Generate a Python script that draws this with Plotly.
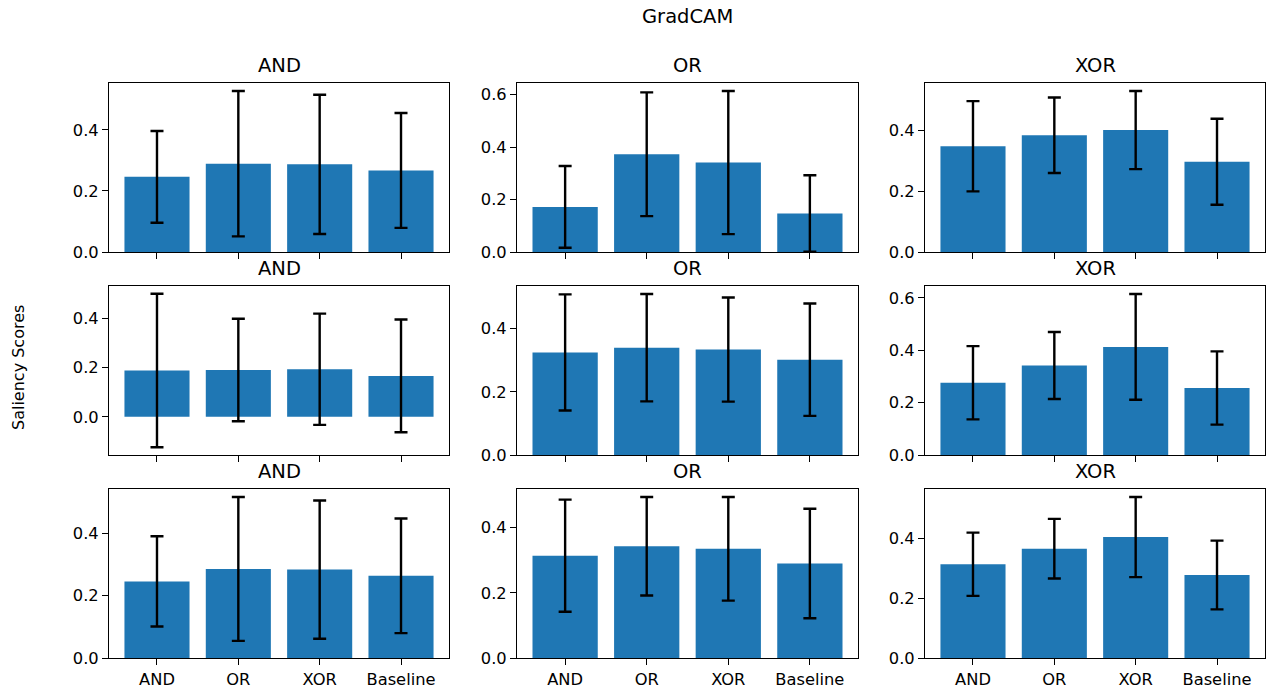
import plotly.graph_objects as go

# Categories along the x axis of every panel
categories = ["AND", "OR", "XOR", "Baseline"]
panel_titles = ["AND", "OR", "XOR"]

# Mean saliency score per category; each row holds the AND / OR / XOR panels
row1_means = [[0.246, 0.289, 0.287, 0.267],
              [0.172, 0.373, 0.341, 0.147],
              [0.347, 0.383, 0.400, 0.296]]
row1_stds = [[0.150, 0.238, 0.228, 0.188],
             [0.156, 0.236, 0.273, 0.146],
             [0.148, 0.124, 0.128, 0.141]]

row2_means = [[0.188, 0.190, 0.193, 0.166],
              [0.325, 0.340, 0.334, 0.302],
              [0.276, 0.342, 0.413, 0.256]]
row2_stds = [[0.312, 0.208, 0.226, 0.229],
             [0.184, 0.170, 0.165, 0.178],
             [0.140, 0.128, 0.202, 0.140]]

row3_means = [[0.246, 0.286, 0.284, 0.264],
              [0.314, 0.343, 0.335, 0.290],
              [0.314, 0.366, 0.405, 0.278]]
row3_stds = [[0.145, 0.231, 0.222, 0.184],
             [0.172, 0.151, 0.159, 0.168],
             [0.106, 0.100, 0.134, 0.115]]

means = [row1_means, row2_means, row3_means]
stds = [row1_stds, row2_stds, row3_stds]

W, H = 1274, 689
FONT = "DejaVu Sans"
BAR_COLOR = "#1f77b4"

# Axes boxes in pixels: (left, right) per column, (top, bottom) per row
col_px = [(109, 449), (517, 858), (925, 1265)]
row_px = [(83, 252), (286, 455), (489, 658)]


def auto_range(m, s):
    """Value range with 5% padding; the bar baseline at zero stays pinned."""
    lo = min(0.0, min(a - b for a, b in zip(m, s)))
    hi = max(a + b for a, b in zip(m, s))
    pad = 0.05 * (hi - lo)
    return [lo - pad if lo < 0 else 0.0, hi + pad]


fig = go.Figure()
layout = dict(
    width=W, height=H, autosize=False,
    margin=dict(l=0, r=0, t=0, b=0, pad=0, autoexpand=False),
    paper_bgcolor="white", plot_bgcolor="white",
    showlegend=False,
    font=dict(family=FONT, size=16, color="black"),
)
annotations = []

axis_common = dict(
    showline=True, mirror=True, linecolor="black", linewidth=1.1,
    ticks="outside", ticklen=6, tickwidth=1.1, tickcolor="black",
    showgrid=False, zeroline=False, automargin=False,
    tickfont=dict(family=FONT, size=16.3, color="black"),
)

for r in range(3):
    for c in range(3):
        k = r * 3 + c + 1
        xa = "x" if k == 1 else f"x{k}"
        ya = "y" if k == 1 else f"y{k}"
        m = means[r][c]
        s = stds[r][c]
        fig.add_trace(go.Bar(
            x=list(range(len(categories))), y=m,
            width=0.8,
            marker=dict(color=BAR_COLOR, line=dict(width=0)),
            error_y=dict(type="data", array=s, visible=True,
                         color="black", thickness=2.4, width=6.5),
            xaxis=xa, yaxis=ya,
        ))
        x0, x1 = col_px[c]
        y0, y1 = row_px[r]
        layout[f"xaxis{k}"] = dict(
            axis_common,
            domain=[x0 / W, x1 / W],
            anchor=ya,
            range=[-0.59, 3.59],
            tickmode="array",
            tickvals=list(range(len(categories))),
            ticktext=categories,
            showticklabels=(r == 2),
        )
        layout[f"yaxis{k}"] = dict(
            axis_common,
            domain=[1 - y1 / H, 1 - y0 / H],
            anchor=xa,
            range=auto_range(m, s),
            tick0=0, dtick=0.2,
            tickformat=".1f",
        )
        annotations.append(dict(
            text=panel_titles[c],
            x=(x0 + x1) / 2 / W, y=1 - (y0 - 4) / H,
            xref="paper", yref="paper",
            xanchor="center", yanchor="bottom",
            showarrow=False,
            font=dict(family=FONT, size=19.5, color="black"),
        ))

annotations.append(dict(
    text="GradCAM", x=(col_px[0][0] + col_px[2][1]) / 2 / W, y=1 - 17 / H,
    xref="paper", yref="paper", xanchor="center", yanchor="middle",
    showarrow=False, font=dict(family=FONT, size=19.5, color="black"),
))
annotations.append(dict(
    text="Saliency Scores", x=18 / W, y=1 - 368 / H,
    xref="paper", yref="paper", xanchor="center", yanchor="middle",
    textangle=-90, showarrow=False,
    font=dict(family=FONT, size=16, color="black"),
))

layout["annotations"] = annotations
fig.update_layout(**layout)
fig.write_html("out.html", config={"responsive": False})
